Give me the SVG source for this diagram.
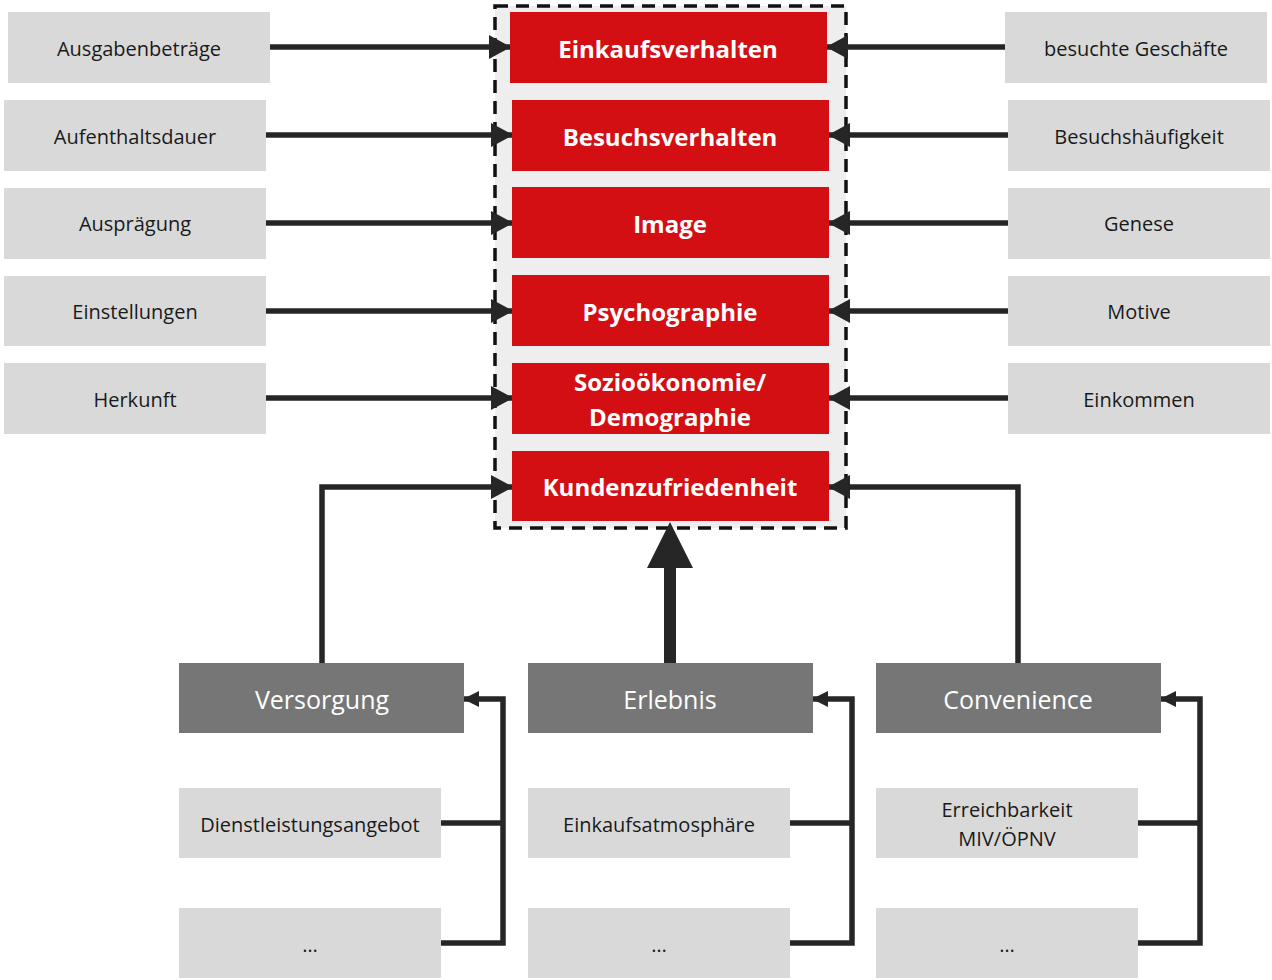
<svg xmlns="http://www.w3.org/2000/svg" width="1272" height="980" viewBox="0 0 1272 980">
<style>
.lt{fill:#d9d9d9}
.red{fill:#d40f14}
.dk{fill:#767676}
.t{font-family:"Open Sans","Liberation Sans",sans-serif;font-size:20px;fill:#1a1a1a;text-anchor:middle;dominant-baseline:central}
.tr{font-family:"Open Sans","Liberation Sans",sans-serif;font-size:24px;font-weight:bold;fill:#fff;text-anchor:middle;dominant-baseline:central}
.td{font-family:"Open Sans","Liberation Sans",sans-serif;font-size:25px;fill:#fff;text-anchor:middle;dominant-baseline:central}
.c{fill:none;stroke:#262626;stroke-width:5.5}
.cm{marker-end:url(#ah)}
.cs{marker-end:url(#as)}
</style>
<defs>
<marker id="ah" markerUnits="userSpaceOnUse" markerWidth="22" markerHeight="24" refX="21" refY="12" orient="auto"><path d="M0,0 L22,12 L0,24 z" fill="#262626"/></marker>
<marker id="as" markerUnits="userSpaceOnUse" markerWidth="16" markerHeight="16" refX="15" refY="8" orient="auto"><path d="M0,0 L16,8 L0,16 z" fill="#262626"/></marker>
</defs>
<rect x="495" y="6" width="351" height="522" fill="#eeeeee" stroke="#111" stroke-width="3.5" stroke-dasharray="13,8"/>
<g id="connectors">
<path class="c cm" d="M270,47 H510"/>
<path class="c cm" d="M266,135 H512"/>
<path class="c cm" d="M266,223 H512"/>
<path class="c cm" d="M266,311 H512"/>
<path class="c cm" d="M266,398 H512"/>
<path class="c cm" d="M1005,47 H827"/>
<path class="c cm" d="M1008,135 H829"/>
<path class="c cm" d="M1008,223 H829"/>
<path class="c cm" d="M1008,311 H829"/>
<path class="c cm" d="M1008,398 H829"/>
<path class="c cm" d="M322,663 V487 H512"/>
<path class="c cm" d="M1018,663 V487 H829"/>
<rect x="664" y="564" width="12" height="99" fill="#262626"/>
<polygon points="670,522 647,568 693,568" fill="#262626"/>
<path class="c" d="M441,823 H503"/>
<path class="c cs" d="M441,943 H503 V699 H464"/>
<path class="c" d="M790,823 H852"/>
<path class="c cs" d="M790,943 H852 V699 H813"/>
<path class="c" d="M1138,823 H1200"/>
<path class="c cs" d="M1138,943 H1200 V699 H1161"/>
</g>
<g id="n-einkaufsverhalten"><rect class="red" x="510" y="12" width="317" height="71"/><text class="tr" x="668" y="48">Einkaufsverhalten</text></g>
<g id="n-besuchsverhalten"><rect class="red" x="512" y="100" width="317" height="71"/><text class="tr" x="670" y="136">Besuchsverhalten</text></g>
<g id="n-image"><rect class="red" x="512" y="187" width="317" height="71"/><text class="tr" x="670" y="223">Image</text></g>
<g id="n-psychographie"><rect class="red" x="512" y="275" width="317" height="71"/><text class="tr" x="670" y="311">Psychographie</text></g>
<g id="n-sozio"><rect class="red" x="512" y="363" width="317" height="71"/><text class="tr" x="670" y="381">Sozioökonomie/</text><text class="tr" x="670" y="416">Demographie</text></g>
<g id="n-kundenzufriedenheit"><rect class="red" x="512" y="451" width="317" height="70"/><text class="tr" x="670" y="486">Kundenzufriedenheit</text></g>
<g id="n-ausgaben"><rect class="lt" x="8" y="12" width="262" height="71"/><text class="t" x="139" y="48">Ausgabenbeträge</text></g>
<g id="n-aufenthalt"><rect class="lt" x="4" y="100" width="262" height="71"/><text class="t" x="135" y="136">Aufenthaltsdauer</text></g>
<g id="n-auspraegung"><rect class="lt" x="4" y="188" width="262" height="71"/><text class="t" x="135" y="223">Ausprägung</text></g>
<g id="n-einstellungen"><rect class="lt" x="4" y="276" width="262" height="70"/><text class="t" x="135" y="311">Einstellungen</text></g>
<g id="n-herkunft"><rect class="lt" x="4" y="363" width="262" height="71"/><text class="t" x="135" y="399">Herkunft</text></g>
<g id="n-geschaefte"><rect class="lt" x="1005" y="12" width="262" height="71"/><text class="t" x="1136" y="48">besuchte Geschäfte</text></g>
<g id="n-haeufigkeit"><rect class="lt" x="1008" y="100" width="262" height="71"/><text class="t" x="1139" y="136">Besuchshäufigkeit</text></g>
<g id="n-genese"><rect class="lt" x="1008" y="188" width="262" height="71"/><text class="t" x="1139" y="223">Genese</text></g>
<g id="n-motive"><rect class="lt" x="1008" y="276" width="262" height="70"/><text class="t" x="1139" y="311">Motive</text></g>
<g id="n-einkommen"><rect class="lt" x="1008" y="363" width="262" height="71"/><text class="t" x="1139" y="399">Einkommen</text></g>
<g id="n-versorgung"><rect class="dk" x="179" y="663" width="285" height="70"/><text class="td" x="322" y="699">Versorgung</text></g>
<g id="n-erlebnis"><rect class="dk" x="528" y="663" width="285" height="70"/><text class="td" x="670" y="699">Erlebnis</text></g>
<g id="n-convenience"><rect class="dk" x="876" y="663" width="285" height="70"/><text class="td" x="1018" y="699">Convenience</text></g>
<g id="n-dienstleistung"><rect class="lt" x="179" y="788" width="262" height="70"/><text class="t" x="310" y="824">Dienstleistungsangebot</text></g>
<g id="n-v-more"><rect class="lt" x="179" y="908" width="262" height="70"/><text class="t" x="310" y="944">…</text></g>
<g id="n-atmosphaere"><rect class="lt" x="528" y="788" width="262" height="70"/><text class="t" x="659" y="824">Einkaufsatmosphäre</text></g>
<g id="n-e-more"><rect class="lt" x="528" y="908" width="262" height="70"/><text class="t" x="659" y="944">…</text></g>
<g id="n-erreichbarkeit"><rect class="lt" x="876" y="788" width="262" height="70"/><text class="t" x="1007" y="809">Erreichbarkeit</text><text class="t" x="1007" y="838">MIV/ÖPNV</text></g>
<g id="n-c-more"><rect class="lt" x="876" y="908" width="262" height="70"/><text class="t" x="1007" y="944">…</text></g>
</svg>
